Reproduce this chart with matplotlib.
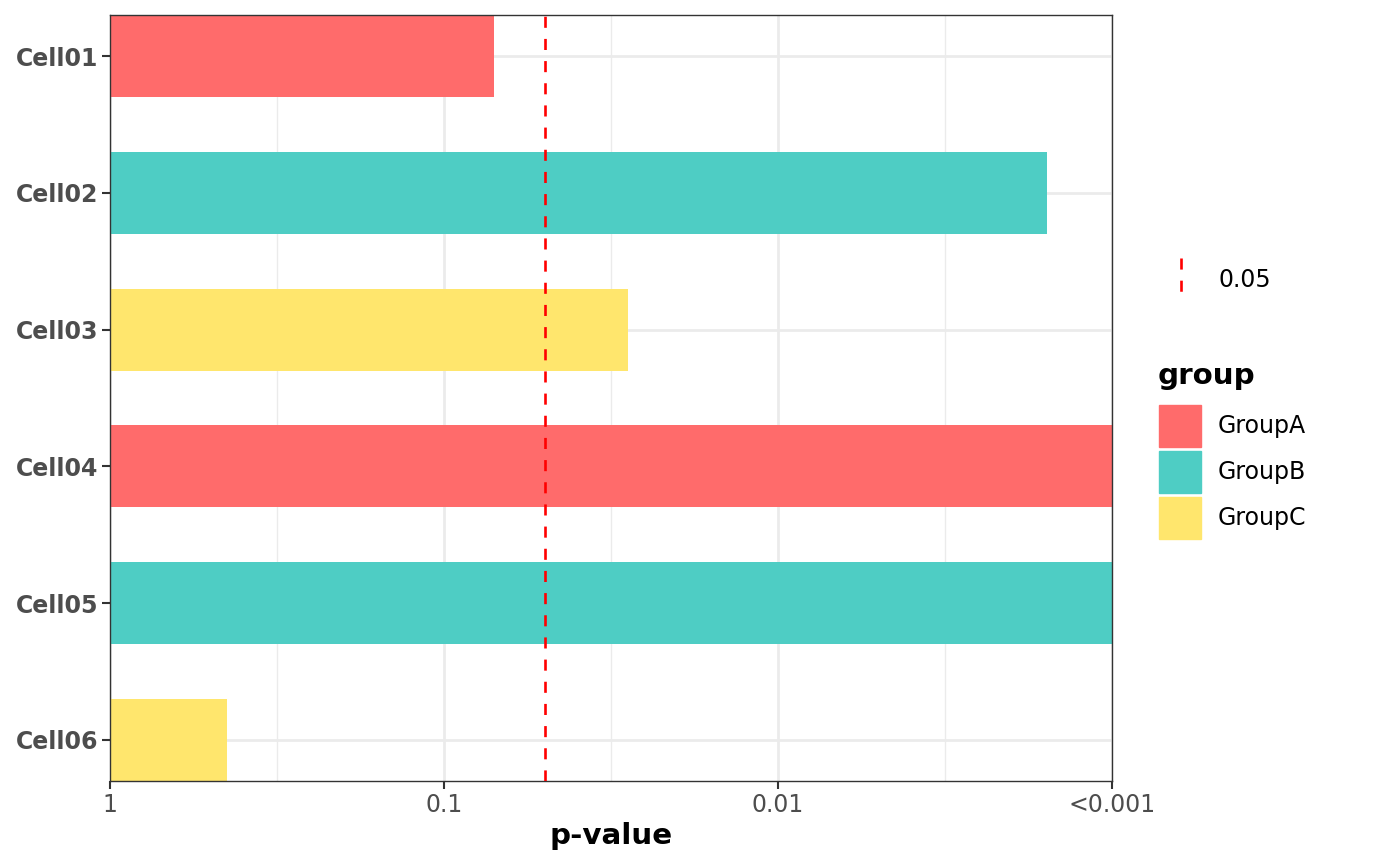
"""
Horizontal bars of -log10(p) per cell, colored by group, with p = 0.05 cutoff.
"""
import numpy as np
import matplotlib.pyplot as plt
from matplotlib.patches import Rectangle
from matplotlib.lines import Line2D

cells = ["Cell01", "Cell02", "Cell03", "Cell04", "Cell05", "Cell06"]
groups = ["GroupA", "GroupB", "GroupC", "GroupA", "GroupB", "GroupC"]
p_values = [0.0708, 0.00157, 0.0281, 0.0002, 0.0001, 0.447]
cutoff = 0.05

group_names = ["GroupA", "GroupB", "GroupC"]
group_colors = {"GroupA": "#FF6B6B", "GroupB": "#4ECDC4", "GroupC": "#FFE66D"}

x_ticks = [0, 1, 2, 3]
x_tick_labels = ["1", "0.1", "0.01", "<0.001"]

TXT_GREY = "#4D4D4D"
plt.rcParams["font.family"] = "DejaVu Sans"

fig = plt.figure(figsize=(14, 8.66), dpi=100)
ax = fig.add_axes([110 / 1400, 1 - 781 / 866, 1002 / 1400, 766 / 866])

score = -np.log10(p_values)
ypos = np.arange(1, len(cells) + 1)
ax.barh(ypos, score, height=0.6, color=[group_colors[g] for g in groups], zorder=2)

ax.axvline(-np.log10(cutoff), color="#FF0000", lw=1.9, dashes=(4.2, 4.2), zorder=3)

ax.set_xlim(0, 3)
ax.set_ylim(6.3, 0.7)
ax.set_yticks(ypos)
ax.set_yticklabels(cells, fontweight="bold")
ax.set_xticks(x_ticks)
ax.set_xticklabels(x_tick_labels)
ax.set_xticks([0.5, 1.5, 2.5], minor=True)

ax.grid(True, which="major", color="#EBEBEB", lw=2.0, zorder=0)
ax.grid(True, which="minor", axis="x", color="#EBEBEB", lw=1.0, zorder=0)
ax.set_axisbelow(True)
ax.tick_params(axis="both", which="major", length=5.5, width=1.5, color="#333333",
               labelcolor=TXT_GREY, labelsize=17, pad=3)
ax.tick_params(axis="x", which="minor", length=0)
for s in ax.spines.values():
    s.set_color("#333333")
    s.set_linewidth(1.0)

ax.set_xlabel("p-value", fontsize=21.2, fontweight="bold", labelpad=4)

# legend: cutoff line
fig.add_artist(Line2D([1181 / 1400, 1181 / 1400], [1 - 258 / 866, 1 - 302 / 866],
                      color="#FF0000", lw=1.9, dashes=(4.2, 4.2)))
fig.text(1218 / 1400, 1 - 280 / 866, "0.05", fontsize=17, va="center", ha="left")

# legend: group fill
fig.text(1158 / 1400, 1 - 376 / 866, "group", fontsize=21.2, fontweight="bold",
         va="center", ha="left")
for i, g in enumerate(group_names):
    top = 405 + i * 46
    fig.add_artist(Rectangle((1159 / 1400, 1 - (top + 42) / 866), 42 / 1400, 42 / 866,
                             transform=fig.transFigure, color=group_colors[g]))
    fig.text(1218 / 1400, 1 - (top + 21) / 866, g, fontsize=17, va="center", ha="left")

fig.savefig("out.png", dpi=100)
